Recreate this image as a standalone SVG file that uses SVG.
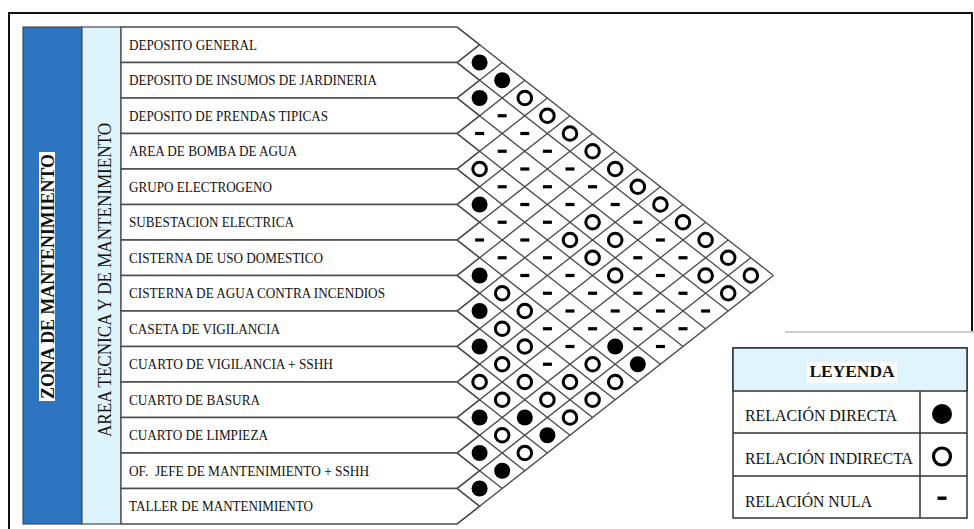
<svg xmlns="http://www.w3.org/2000/svg" xmlns:xlink="http://www.w3.org/1999/xlink" width="974" height="529" viewBox="0 0 974 529">
<style>
.row{fill:#fff;stroke:#4a4a4a;stroke-width:1.3}
.lbl{font-family:"Liberation Serif","Times New Roman",serif;font-size:14.5px;fill:#111}
.grid line{stroke:#4a4a4a;stroke-width:1.3}
.leg{font-family:"Liberation Serif","Times New Roman",serif;font-size:16px;fill:#111}
.frame{stroke:#111;stroke-width:2;fill:none}
</style>
<defs>
<circle id="f" r="8" fill="#000"/>
<circle id="o" r="6.8" fill="#fff" stroke="#000" stroke-width="3"/>
<rect id="n" x="-4.5" y="-1.6" width="9" height="3.2" fill="#000"/>
</defs>
<rect width="974" height="529" fill="#fff"/>
<g id="frame">
<path class="frame" d="M9,529 V13 H972 V331"/>
<line x1="785" y1="332" x2="974" y2="332" stroke="#bdbdbd" stroke-width="1.3"/>
</g>
<g id="zona">
<rect x="23" y="27" width="59" height="497" fill="#2E75C1" stroke="#4a4a4a" stroke-width="1.2"/>
<rect x="39" y="152" width="16" height="249" fill="#fff"/>
<text transform="translate(54,276.5) rotate(-90)" text-anchor="middle" font-family="Liberation Serif, Times New Roman, serif" font-size="18" font-weight="bold" textLength="245" lengthAdjust="spacingAndGlyphs" fill="#111">ZONA DE MANTENIMIENTO</text>
</g>
<g id="area">
<rect x="82" y="27" width="39" height="497" fill="#DEF4FC" stroke="#4a4a4a" stroke-width="1.2"/>
<text transform="translate(111,280) rotate(-90)" text-anchor="middle" font-family="Liberation Serif, Times New Roman, serif" font-size="18" textLength="314" lengthAdjust="spacingAndGlyphs" fill="#111">AREA TECNICA Y DE MANTENIMIENTO</text>
</g>
<g id="row1"><polygon class="row" points="121,27 457,27 479.6,44.75 457,62.5 121,62.5"/><text class="lbl" x="129" y="49.5" textLength="128" lengthAdjust="spacingAndGlyphs">DEPOSITO GENERAL</text></g>
<g id="row2"><polygon class="row" points="121,62.5 457,62.5 479.6,80.25 457,98 121,98"/><text class="lbl" x="129" y="85" textLength="248" lengthAdjust="spacingAndGlyphs">DEPOSITO DE INSUMOS DE JARDINERIA</text></g>
<g id="row3"><polygon class="row" points="121,98 457,98 479.6,115.75 457,133.5 121,133.5"/><text class="lbl" x="129" y="120.5" textLength="199" lengthAdjust="spacingAndGlyphs">DEPOSITO DE PRENDAS TIPICAS</text></g>
<g id="row4"><polygon class="row" points="121,133.5 457,133.5 479.6,151.25 457,169 121,169"/><text class="lbl" x="129" y="156" textLength="168" lengthAdjust="spacingAndGlyphs">AREA DE BOMBA DE AGUA</text></g>
<g id="row5"><polygon class="row" points="121,169 457,169 479.6,186.75 457,204.5 121,204.5"/><text class="lbl" x="129" y="191.5" textLength="143" lengthAdjust="spacingAndGlyphs">GRUPO ELECTROGENO</text></g>
<g id="row6"><polygon class="row" points="121,204.5 457,204.5 479.6,222.25 457,240 121,240"/><text class="lbl" x="129" y="227" textLength="165" lengthAdjust="spacingAndGlyphs">SUBESTACION ELECTRICA</text></g>
<g id="row7"><polygon class="row" points="121,240 457,240 479.6,257.75 457,275.5 121,275.5"/><text class="lbl" x="129" y="262.5" textLength="194" lengthAdjust="spacingAndGlyphs">CISTERNA DE USO DOMESTICO</text></g>
<g id="row8"><polygon class="row" points="121,275.5 457,275.5 479.6,293.25 457,311 121,311"/><text class="lbl" x="129" y="298" textLength="256" lengthAdjust="spacingAndGlyphs">CISTERNA DE AGUA CONTRA INCENDIOS</text></g>
<g id="row9"><polygon class="row" points="121,311 457,311 479.6,328.75 457,346.5 121,346.5"/><text class="lbl" x="129" y="333.5" textLength="151" lengthAdjust="spacingAndGlyphs">CASETA DE VIGILANCIA</text></g>
<g id="row10"><polygon class="row" points="121,346.5 457,346.5 479.6,364.25 457,382 121,382"/><text class="lbl" x="129" y="369" textLength="204" lengthAdjust="spacingAndGlyphs">CUARTO DE VIGILANCIA + SSHH</text></g>
<g id="row11"><polygon class="row" points="121,382 457,382 479.6,399.75 457,417.5 121,417.5"/><text class="lbl" x="129" y="404.5" textLength="131" lengthAdjust="spacingAndGlyphs">CUARTO DE BASURA</text></g>
<g id="row12"><polygon class="row" points="121,417.5 457,417.5 479.6,435.25 457,453 121,453"/><text class="lbl" x="129" y="440" textLength="139" lengthAdjust="spacingAndGlyphs">CUARTO DE LIMPIEZA</text></g>
<g id="row13"><polygon class="row" points="121,453 457,453 479.6,470.75 457,488.5 121,488.5"/><text class="lbl" x="129" y="475.5" textLength="240" lengthAdjust="spacingAndGlyphs" xml:space="preserve">OF.  JEFE DE MANTENIMIENTO + SSHH</text></g>
<g id="row14"><polygon class="row" points="121,488.5 457,488.5 479.6,506.25 457,524 121,524"/><text class="lbl" x="129" y="511" textLength="184" lengthAdjust="spacingAndGlyphs">TALLER DE MANTENIMIENTO</text></g>
<g id="connectors" class="grid">
<line x1="457" y1="27" x2="773.4" y2="275.5"/>
<line x1="457" y1="62.5" x2="750.8" y2="293.25"/>
<line x1="457" y1="98" x2="728.2" y2="311"/>
<line x1="457" y1="133.5" x2="705.6" y2="328.75"/>
<line x1="457" y1="169" x2="683" y2="346.5"/>
<line x1="457" y1="204.5" x2="660.4" y2="364.25"/>
<line x1="457" y1="240" x2="637.8" y2="382"/>
<line x1="457" y1="275.5" x2="615.2" y2="399.75"/>
<line x1="457" y1="311" x2="592.6" y2="417.5"/>
<line x1="457" y1="346.5" x2="570" y2="435.25"/>
<line x1="457" y1="382" x2="547.4" y2="453"/>
<line x1="457" y1="417.5" x2="524.8" y2="470.75"/>
<line x1="457" y1="453" x2="502.2" y2="488.5"/>
<line x1="457" y1="488.5" x2="479.6" y2="506.25"/>
<line x1="457" y1="62.5" x2="479.6" y2="44.75"/>
<line x1="457" y1="98" x2="502.2" y2="62.5"/>
<line x1="457" y1="133.5" x2="524.8" y2="80.25"/>
<line x1="457" y1="169" x2="547.4" y2="98"/>
<line x1="457" y1="204.5" x2="570" y2="115.75"/>
<line x1="457" y1="240" x2="592.6" y2="133.5"/>
<line x1="457" y1="275.5" x2="615.2" y2="151.25"/>
<line x1="457" y1="311" x2="637.8" y2="169"/>
<line x1="457" y1="346.5" x2="660.4" y2="186.75"/>
<line x1="457" y1="382" x2="683" y2="204.5"/>
<line x1="457" y1="417.5" x2="705.6" y2="222.25"/>
<line x1="457" y1="453" x2="728.2" y2="240"/>
<line x1="457" y1="488.5" x2="750.8" y2="257.75"/>
<line x1="457" y1="524" x2="773.4" y2="275.5"/>
</g>
<g id="matrix">
<use href="#f" x="479.6" y="62.5"/>
<use href="#f" x="479.6" y="98"/>
<use href="#n" x="479.6" y="133.5"/>
<use href="#o" x="479.6" y="169"/>
<use href="#f" x="479.6" y="204.5"/>
<use href="#n" x="479.6" y="240"/>
<use href="#f" x="479.6" y="275.5"/>
<use href="#f" x="479.6" y="311"/>
<use href="#f" x="479.6" y="346.5"/>
<use href="#o" x="479.6" y="382"/>
<use href="#f" x="479.6" y="417.5"/>
<use href="#f" x="479.6" y="453"/>
<use href="#f" x="479.6" y="488.5"/>
<use href="#f" x="502.2" y="80.25"/>
<use href="#n" x="502.2" y="115.75"/>
<use href="#n" x="502.2" y="151.25"/>
<use href="#n" x="502.2" y="186.75"/>
<use href="#n" x="502.2" y="222.25"/>
<use href="#n" x="502.2" y="257.75"/>
<use href="#o" x="502.2" y="293.25"/>
<use href="#o" x="502.2" y="328.75"/>
<use href="#o" x="502.2" y="364.25"/>
<use href="#o" x="502.2" y="399.75"/>
<use href="#o" x="502.2" y="435.25"/>
<use href="#f" x="502.2" y="470.75"/>
<use href="#o" x="524.8" y="98"/>
<use href="#n" x="524.8" y="133.5"/>
<use href="#n" x="524.8" y="169"/>
<use href="#n" x="524.8" y="204.5"/>
<use href="#n" x="524.8" y="240"/>
<use href="#n" x="524.8" y="275.5"/>
<use href="#o" x="524.8" y="311"/>
<use href="#o" x="524.8" y="346.5"/>
<use href="#o" x="524.8" y="382"/>
<use href="#f" x="524.8" y="417.5"/>
<use href="#o" x="524.8" y="453"/>
<use href="#o" x="547.4" y="115.75"/>
<use href="#n" x="547.4" y="151.25"/>
<use href="#n" x="547.4" y="186.75"/>
<use href="#n" x="547.4" y="222.25"/>
<use href="#n" x="547.4" y="257.75"/>
<use href="#n" x="547.4" y="293.25"/>
<use href="#n" x="547.4" y="328.75"/>
<use href="#n" x="547.4" y="364.25"/>
<use href="#o" x="547.4" y="399.75"/>
<use href="#f" x="547.4" y="435.25"/>
<use href="#o" x="570" y="133.5"/>
<use href="#n" x="570" y="169"/>
<use href="#n" x="570" y="204.5"/>
<use href="#o" x="570" y="240"/>
<use href="#n" x="570" y="275.5"/>
<use href="#n" x="570" y="311"/>
<use href="#n" x="570" y="346.5"/>
<use href="#o" x="570" y="382"/>
<use href="#o" x="570" y="417.5"/>
<use href="#o" x="592.6" y="151.25"/>
<use href="#n" x="592.6" y="186.75"/>
<use href="#o" x="592.6" y="222.25"/>
<use href="#o" x="592.6" y="257.75"/>
<use href="#n" x="592.6" y="293.25"/>
<use href="#n" x="592.6" y="328.75"/>
<use href="#o" x="592.6" y="364.25"/>
<use href="#o" x="592.6" y="399.75"/>
<use href="#o" x="615.2" y="169"/>
<use href="#n" x="615.2" y="204.5"/>
<use href="#o" x="615.2" y="240"/>
<use href="#o" x="615.2" y="275.5"/>
<use href="#n" x="615.2" y="311"/>
<use href="#f" x="615.2" y="346.5"/>
<use href="#o" x="615.2" y="382"/>
<use href="#o" x="637.8" y="186.75"/>
<use href="#n" x="637.8" y="222.25"/>
<use href="#n" x="637.8" y="257.75"/>
<use href="#n" x="637.8" y="293.25"/>
<use href="#n" x="637.8" y="328.75"/>
<use href="#f" x="637.8" y="364.25"/>
<use href="#o" x="660.4" y="204.5"/>
<use href="#n" x="660.4" y="240"/>
<use href="#n" x="660.4" y="275.5"/>
<use href="#n" x="660.4" y="311"/>
<use href="#n" x="660.4" y="346.5"/>
<use href="#o" x="683" y="222.25"/>
<use href="#n" x="683" y="257.75"/>
<use href="#n" x="683" y="293.25"/>
<use href="#n" x="683" y="328.75"/>
<use href="#o" x="705.6" y="240"/>
<use href="#o" x="705.6" y="275.5"/>
<use href="#n" x="705.6" y="311"/>
<use href="#o" x="728.2" y="257.75"/>
<use href="#o" x="728.2" y="293.25"/>
<use href="#o" x="750.8" y="275.5"/>
</g>
<g id="legend">
<rect x="733" y="348" width="234" height="170" fill="#fff" stroke="#333" stroke-width="1.5"/>
<rect x="733" y="348" width="234" height="43" fill="#DFF4FC" stroke="#333" stroke-width="1.5"/>
<rect x="807" y="362" width="90" height="21" fill="#fff"/>
<text x="852" y="377" text-anchor="middle" font-family="Liberation Serif, Times New Roman, serif" font-size="17" font-weight="bold" textLength="85" lengthAdjust="spacingAndGlyphs" fill="#111">LEYENDA</text>
<line x1="733" y1="433" x2="967" y2="433" stroke="#333" stroke-width="1.5"/>
<line x1="733" y1="476" x2="967" y2="476" stroke="#333" stroke-width="1.5"/>
<line x1="920" y1="391" x2="920" y2="518" stroke="#333" stroke-width="1.5"/>
<text class="leg" x="745" y="421" textLength="152" lengthAdjust="spacingAndGlyphs">RELACIÓN DIRECTA</text>
<text class="leg" x="745" y="464" textLength="168" lengthAdjust="spacingAndGlyphs">RELACIÓN INDIRECTA</text>
<text class="leg" x="745" y="507" textLength="127" lengthAdjust="spacingAndGlyphs">RELACIÓN NULA</text>
<circle cx="942" cy="414" r="10" fill="#000"/>
<circle cx="942" cy="456.5" r="8.5" fill="#fff" stroke="#000" stroke-width="3.2"/>
<rect x="937.5" y="496.5" width="9" height="3.4" fill="#000"/>
</g>
</svg>
